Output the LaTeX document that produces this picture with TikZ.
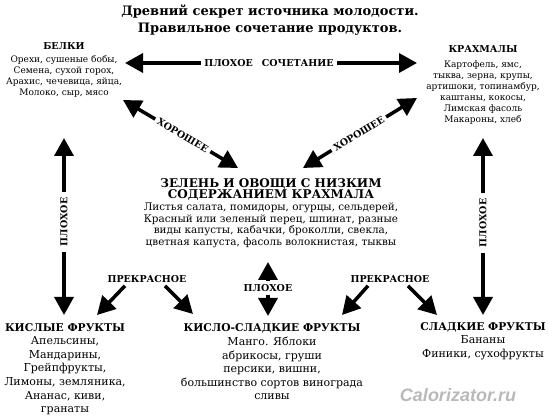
\documentclass[tikz,border=0pt]{standalone}
\usepackage{fontspec}
\setmainfont{DejaVu Serif}
\newfontfamily\wmfont{Liberation Sans}
\usetikzlibrary{arrows.meta}

\newcommand{\hdsmall}[1]{{\bfseries\fontsize{9.5}{11}\selectfont #1}}
\newcommand{\hdmid}[1]{{\bfseries\fontsize{12}{13}\selectfont #1}}
\newcommand{\hdbig}[1]{{\bfseries\fontsize{10.7}{13}\selectfont #1}}

\tikzset{
  block/.style={align=center, inner sep=3pt},
  smallblock/.style={block, font=\fontsize{9}{11}\selectfont},
  midblock/.style={block, font=\fontsize{10.4}{11.7}\selectfont},
  bigblock/.style={block, font=\fontsize{11}{13.6}\selectfont},
  lbl/.style={font=\bfseries\fontsize{9.5}{10}\selectfont, inner sep=3pt},
  bigarrow/.style={line width=3.5pt, -{Triangle[length=18pt,width=19pt]}}
}

\begin{document}
\begin{tikzpicture}[x=1pt,y=-1pt]
  \useasboundingbox (0,0) rectangle (549,419);

  % title
  \node[font=\bfseries\fontsize{13}{17}\selectfont, align=center] (title) at (270,20)
    {Древний секрет источника молодости.\\Правильное сочетание продуктов.};

  % food groups
  \node[smallblock] (belki) at (64,70)
    {\hdsmall{БЕЛКИ}\\[2pt] Орехи, сушеные бобы,\\ Семена, сухой горох,\\
     Арахис, чечевица, яйца,\\ Молоко, сыр, мясо};
  \node[smallblock] (krahmaly) at (483,85)
    {\hdsmall{КРАХМАЛЫ}\\[4pt] Картофель, ямс,\\ тыква, зерна, крупы,\\
     артишоки, топинамбур,\\ каштаны, кокосы,\\ Лимская фасоль\\ Макароны, хлеб};
  \node[midblock] (zelen) at (271,213)
    {\hdmid{ЗЕЛЕНЬ И ОВОЩИ С НИЗКИМ}\\ \hdmid{СОДЕРЖАНИЕМ КРАХМАЛА}\\
     Листья салата, помидоры, огурцы, сельдерей,\\
     Красный или зеленый перец, шпинат, разные\\
     виды капусты, кабачки, броколли, свекла,\\
     цветная капуста, фасоль волокнистая, тыквы};
  \node[bigblock] (kislye) at (65,369)
    {\hdbig{КИСЛЫЕ ФРУКТЫ}\\ Апельсины,\\ Мандарины,\\ Грейпфрукты,\\
     Лимоны, земляника,\\ Ананас, киви,\\ гранаты};
  \node[bigblock] (kislosl) at (272,362)
    {\hdbig{КИСЛО-СЛАДКИЕ ФРУКТЫ}\\ Манго. Яблоки\\ абрикосы, груши\\
     персики, вишни,\\ большинство сортов винограда\\ сливы};
  \node[bigblock] (sladkie) at (483,341)
    {\hdbig{СЛАДКИЕ ФРУКТЫ}\\ Бананы\\ Финики, сухофрукты};

  % arrow tips
  \coordinate (tipTopL) at (125,63);
  \coordinate (tipTopR) at (417,63);
  \coordinate (tipBelki) at (123,100);
  \coordinate (tipZelL) at (238,168);
  \coordinate (tipKrah) at (417,98);
  \coordinate (tipZelR) at (303,168);
  \coordinate (tipVLup) at (64,138);
  \coordinate (tipVLdn) at (64,315);
  \coordinate (tipVRup) at (483,138);
  \coordinate (tipVRdn) at (483,315);
  \coordinate (tipMidUp) at (268,262);
  \coordinate (tipMidDn) at (268,316);
  \coordinate (tipKisL) at (97,315);
  \coordinate (tipKSL) at (193,314);
  \coordinate (tipKSR) at (342,315);
  \coordinate (tipSlad) at (437,315);

  % labels
  \node[lbl] (badtop) at (269,63) {ПЛОХОЕ\hspace{9pt}СОЧЕТАНИЕ};
  \path (tipBelki) -- (tipZelL) node[lbl, pos=0.52, sloped] (goodleft) {ХОРОШЕЕ};
  \path (tipKrah) -- (tipZelR) node[lbl, pos=0.51, sloped] (goodright) {ХОРОШЕЕ};
  \node[lbl, rotate=90, inner sep=6pt] (badleft) at (64,222) {ПЛОХОЕ};
  \node[lbl, rotate=90, inner sep=6pt] (badright) at (483,223) {ПЛОХОЕ};
  \node[lbl] (badmid) at (268,288) {ПЛОХОЕ};
  \node[lbl] (fineleft) at (147,279) {ПРЕКРАСНОЕ};
  \node[lbl] (fineright) at (390,279) {ПРЕКРАСНОЕ};

  % connectors
  \draw[bigarrow] (badtop.west) -- (tipTopL);
  \draw[bigarrow] (badtop.east) -- (tipTopR);
  \draw[bigarrow] (goodleft.west) -- (tipBelki);
  \draw[bigarrow] (goodleft.east) -- (tipZelL);
  \draw[bigarrow] (goodright.east) -- (tipKrah);
  \draw[bigarrow] (goodright.west) -- (tipZelR);
  \draw[bigarrow] (badleft.east) -- (tipVLup);
  \draw[bigarrow] (badleft.west) -- (tipVLdn);
  \draw[bigarrow] (badright.east) -- (tipVRup);
  \draw[bigarrow] (badright.west) -- (tipVRdn);
  \draw[bigarrow] (badmid.north) -- (tipMidUp);
  \draw[bigarrow] (badmid.south) -- (tipMidDn);
  \draw[bigarrow] ([xshift=-22pt]fineleft.south) -- (tipKisL);
  \draw[bigarrow] ([xshift=18pt]fineleft.south) -- (tipKSL);
  \draw[bigarrow] ([xshift=-22pt]fineright.south) -- (tipKSR);
  \draw[bigarrow] ([xshift=18pt]fineright.south) -- (tipSlad);

  % watermark
  \node[font=\wmfont\bfseries\itshape\fontsize{18}{20}\selectfont, text=gray!55] (wm) at (458,395) {Calorizator.ru};
\end{tikzpicture}
\end{document}
